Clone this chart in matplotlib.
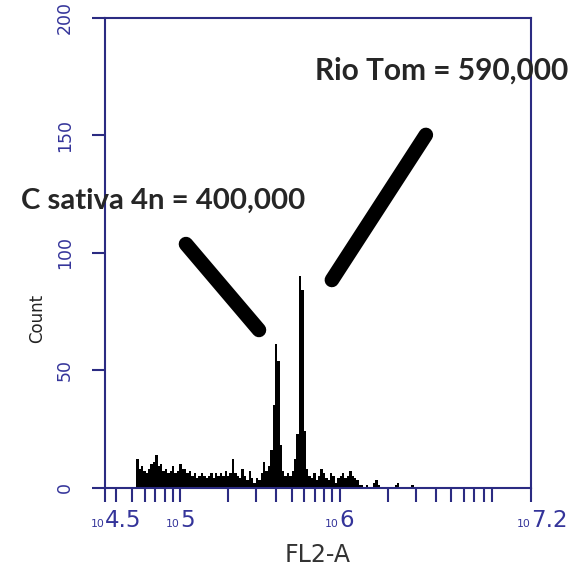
import numpy as np
import matplotlib.pyplot as plt

# histogram of FL2-A (log bins)
bin_start = 4.725
bin_width = 0.015
counts = [12, 8, 9, 7, 6, 8, 10, 11, 14, 9,
          10, 7, 8, 6, 7, 9, 6, 7, 10, 8,
          8, 6, 7, 5, 6, 4, 5, 6, 5, 4,
          5, 6, 4, 6, 5, 6, 5, 7, 5, 6,
          12, 6, 5, 4, 8, 5, 3, 7, 4, 2,
          4, 3, 6, 11, 7, 9, 16, 35, 61, 54,
          18, 7, 5, 6, 5, 7, 12, 23, 90, 84,
          24, 8, 5, 4, 6, 3, 5, 8, 6, 4,
          3, 6, 5, 2, 4, 5, 6, 4, 5, 7,
          5, 4, 3, 1, 1, 0, 1, 0, 0, 2,
          3, 1, 0, 0, 0, 0, 0, 0, 1, 2,
          0, 0, 0, 0, 0, 1, 0, 0, 0, 0]

x_lo, x_hi = 4.53, 7.2
xtick_pos = [x_lo, 5, 6, x_hi]
xtick_txt = ['4.5', '5', '6', '7.2']
yticks = [0, 50, 100, 150, 200]

# hand drawn pointer strokes (log10 FL2-A, count)
stroke_c = ([5.0375, 5.495], [103.7, 67.1])
stroke_r = ([5.952, 6.541], [88.4, 150.2])
label_c = 'C sativa 4n = 400,000'
label_r = 'Rio Tom = 590,000'

navy = '#2b2b82'
tickblue = '#34349a'

fig = plt.figure(figsize=(5.72, 5.77), dpi=100)
ax = fig.add_axes([105/572, 89.5/577, 426/572, 469.5/577])

edges = 10 ** (bin_start + bin_width * np.arange(len(counts) + 1))
ax.stairs(counts, edges, fill=True, color='black', lw=1.0)

ax.set_xscale('log')
ax.set_xlim(10**x_lo, 10**x_hi)
ax.set_ylim(0, 200)

# flowjo style labels: small "10" on the baseline, exponent after it
ax.set_xticks([10**p for p in xtick_pos])
ax.set_xticklabels(xtick_txt, family=['DejaVu Sans Condensed', 'DejaVu Sans'],
                   fontsize=16.5, color=tickblue, ha='left', va='baseline')
for p in xtick_pos:
    ax.annotate('10', xy=(10**p, 0), xycoords=('data', 'axes fraction'),
                xytext=(-0.5, -28.5), textcoords='offset points',
                ha='right', va='baseline', fontsize=7.8, color=tickblue)

ax.set_yticks(yticks)
ax.set_yticklabels([str(v) for v in yticks], rotation=90, va='center',
                   fontsize=12.5, color=tickblue)

for s in ax.spines.values():
    s.set_color(navy)
    s.set_linewidth(1.5)
ax.tick_params(axis='x', which='both', length=10, width=1.5, color=navy, pad=18.3)
ax.tick_params(axis='y', length=9.5, width=1.5, color=navy, pad=13)

ax.set_xlabel('FL2-A', fontsize=17, color='#333333')
ax.xaxis.set_label_coords(0.50, -0.118)
ax.set_ylabel('Count', fontsize=12, color='#222222')
ax.yaxis.set_label_coords(-0.139, 0.36)

for xs, ys in (stroke_c, stroke_r):
    ax.plot([10**v for v in xs], ys, color='black', lw=10.5,
            solid_capstyle='round', clip_on=False)

fig.text(163/572, 1 - 201/577, label_c, ha='center', va='center',
         family=['Lato', 'DejaVu Sans'], weight='bold', fontsize=21.2, color='#262626')
fig.text(442/572, 1 - 71/577, label_r, ha='center', va='center',
         family=['Lato', 'DejaVu Sans'], weight='bold', fontsize=21.5, color='#262626')

fig.savefig('out.png', dpi=100)
